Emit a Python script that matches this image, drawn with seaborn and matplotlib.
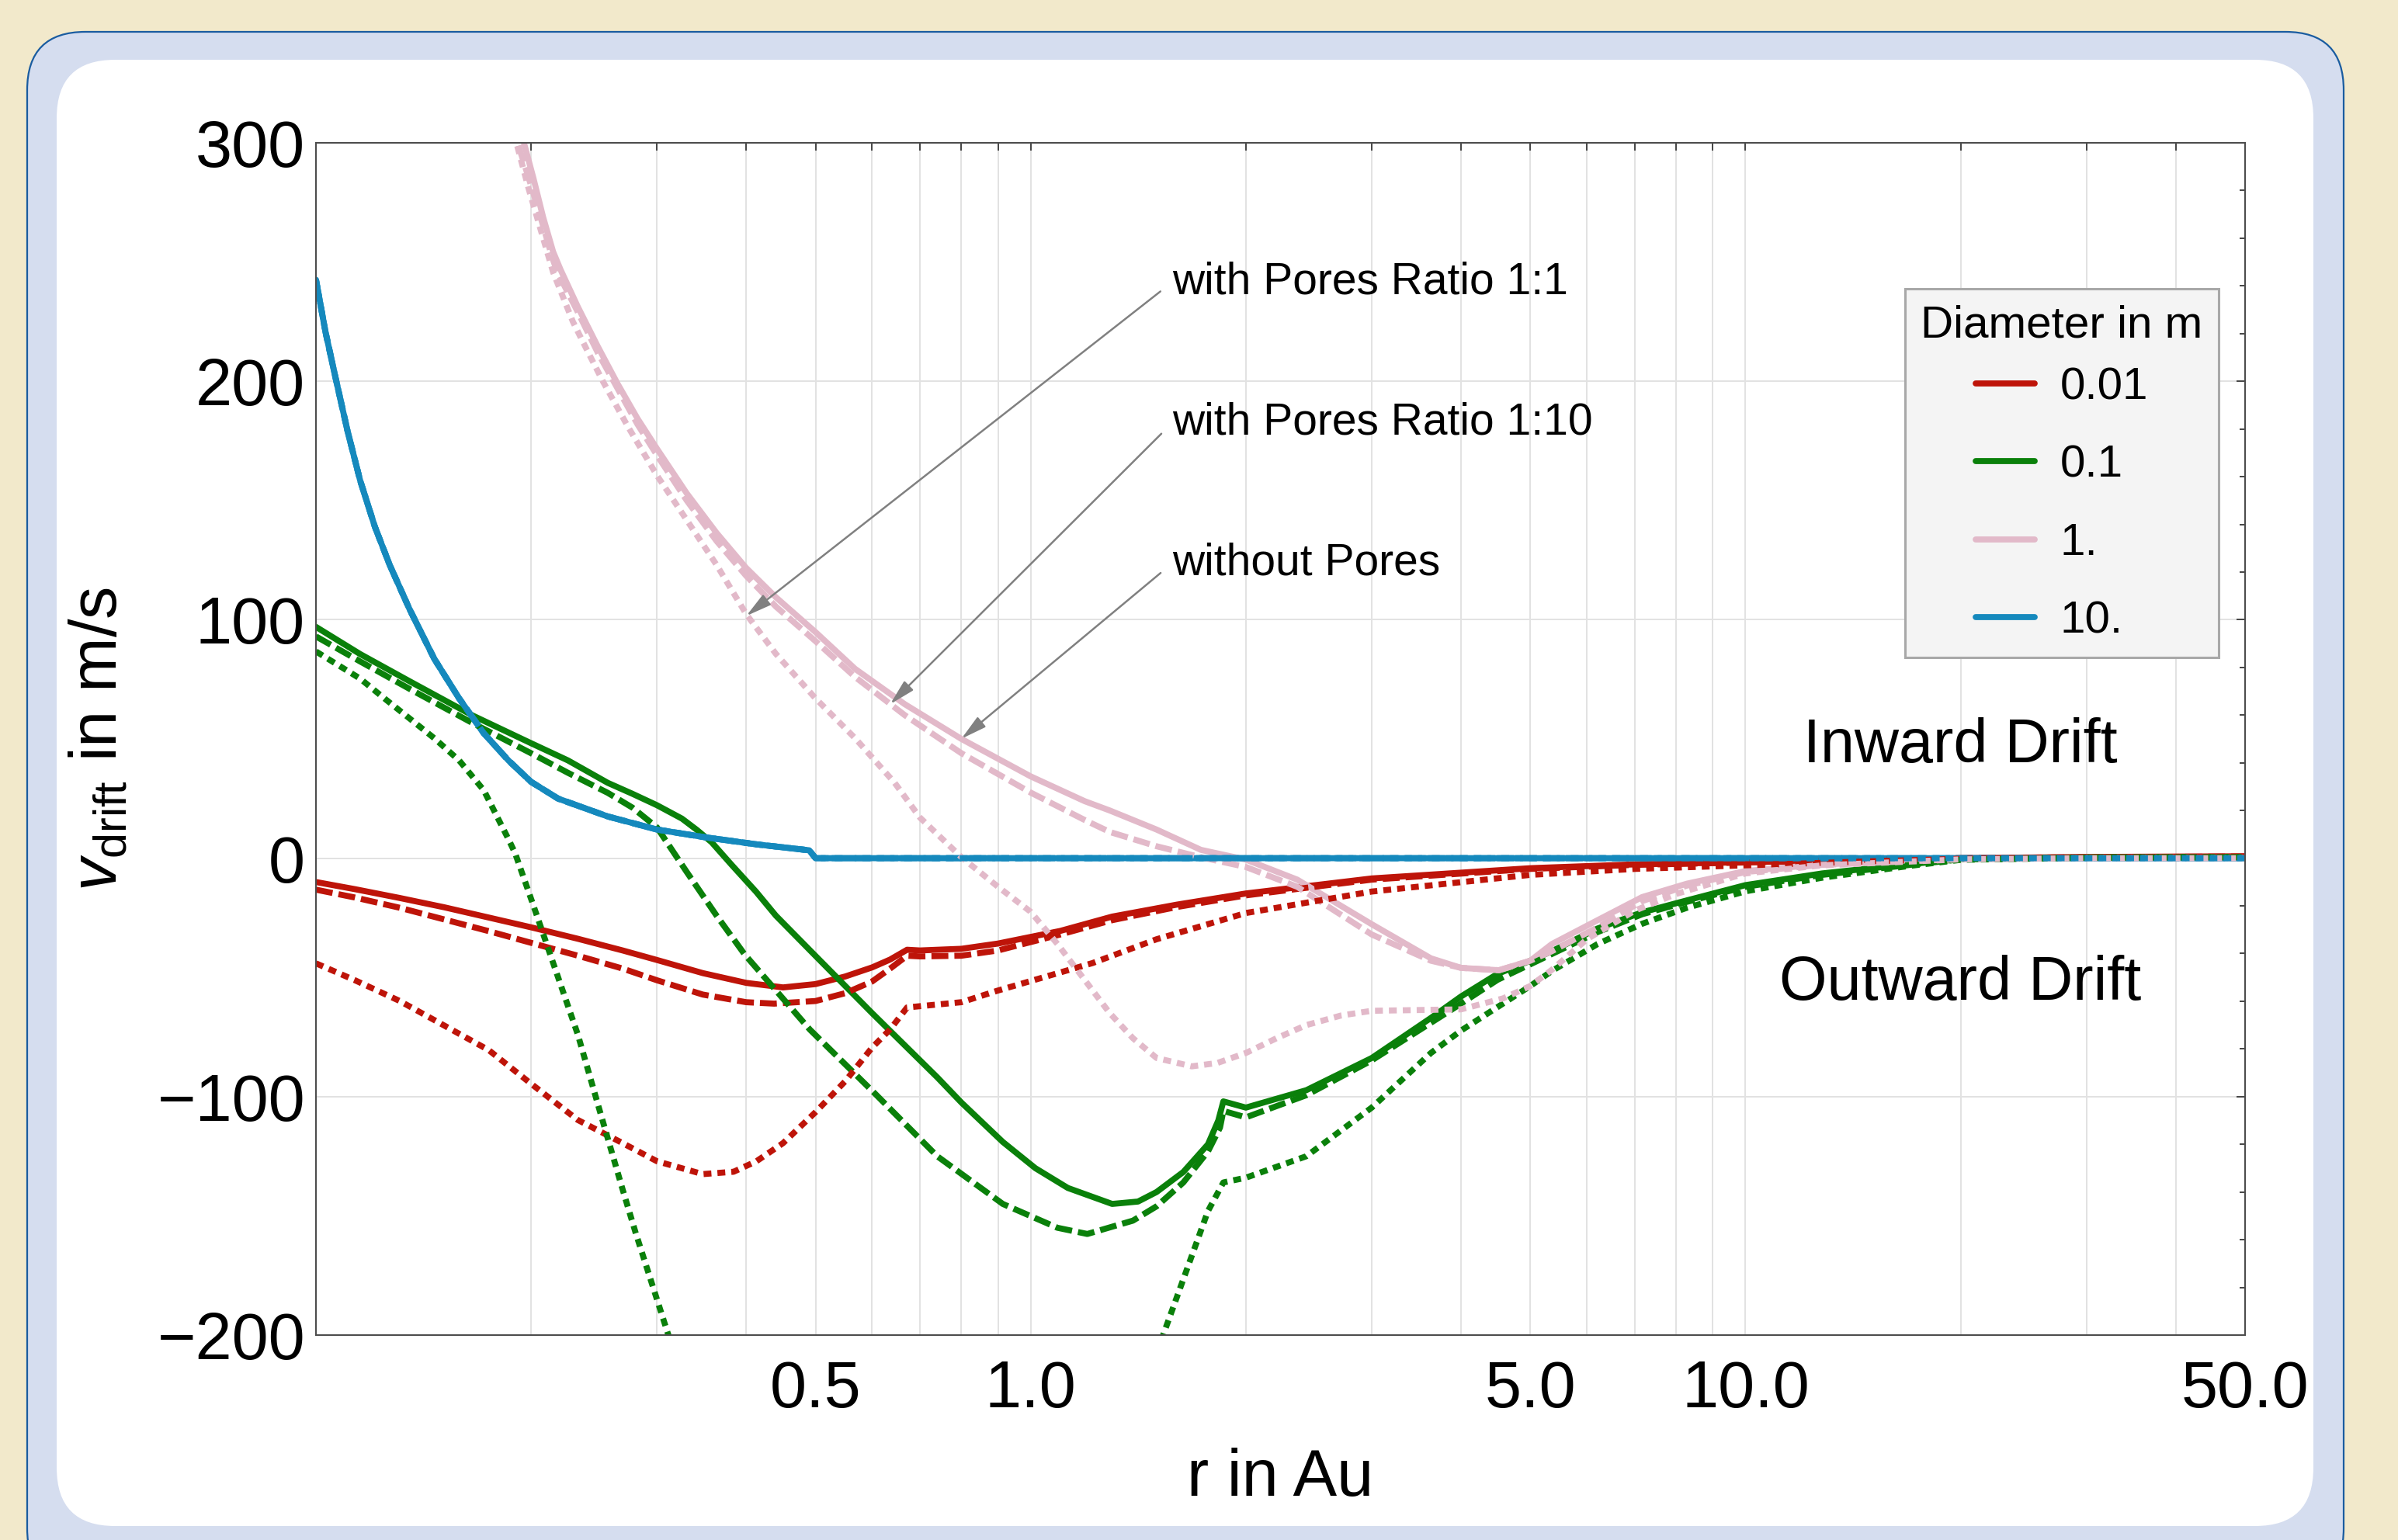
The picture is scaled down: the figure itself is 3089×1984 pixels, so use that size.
import numpy as np
import pandas as pd
import matplotlib
matplotlib.use("Agg")
import matplotlib.pyplot as plt
import seaborn as sns
from matplotlib.patches import FancyBboxPatch
from matplotlib.ticker import NullFormatter

# ---------------- data ----------------
# r in Au, v_drift in m/s ; "without" = solid, "1:10" = dashed, "1:1" = dotted
r_red_none = [0.1, 0.1134, 0.131, 0.1512, 0.1745, 0.2, 0.2325, 0.2686, 0.3, 0.3477, 0.4, 0.4503, 0.5, 0.5503, 0.6, 0.6358, 0.6715, 0.7, 0.8, 0.9, 1.1, 1.3, 1.6, 2.0, 3.0, 5.0, 7.0, 10.0, 15.0, 20.0, 30.0, 50.0]
v_red_none = [-10.0, -13.0, -16.7, -20.6, -24.9, -29.0, -33.8, -38.7, -42.7, -48.2, -52.3, -54.2, -52.8, -49.6, -45.8, -42.5, -38.4, -38.7, -38.0, -35.8, -30.5, -24.5, -19.5, -14.8, -8.5, -4.2, -2.6, -1.7, -0.6, 0.0, 0.5, 0.8]

r_red_110 = [0.1, 0.1134, 0.131, 0.1512, 0.1745, 0.2, 0.2325, 0.2686, 0.3, 0.3477, 0.4, 0.4375, 0.5, 0.5503, 0.6, 0.6358, 0.6715, 0.7, 0.8, 0.9, 1.1, 1.3, 1.6, 2.0, 3.0, 5.0, 7.0, 10.0, 15.0, 20.0, 30.0, 50.0]
v_red_110 = [-13.2, -16.5, -20.8, -25.7, -30.6, -35.5, -40.9, -46.3, -51.2, -57.2, -60.4, -61.0, -59.9, -56.6, -51.7, -46.3, -40.9, -41.2, -40.9, -38.7, -32.0, -26.0, -20.5, -15.6, -9.0, -4.5, -2.8, -1.8, -0.6, 0.0, 0.4, 0.7]

r_red_11 = [0.1, 0.1134, 0.131, 0.1512, 0.1745, 0.2, 0.2325, 0.2686, 0.3, 0.3477, 0.384, 0.4133, 0.4503, 0.5, 0.5503, 0.6, 0.6358, 0.6715, 0.7326, 0.8, 0.9, 1.22, 1.5, 2.0, 3.0, 5.0, 7.0, 10.0, 15.0, 20.0, 30.0, 50.0]
v_red_11 = [-44.1, -51.2, -59.9, -70.2, -80.5, -94.6, -109.8, -119.5, -127.1, -132.5, -131.5, -127.1, -119.5, -106.5, -93.5, -79.4, -71.8, -62.6, -61.5, -60.4, -55.5, -44.0, -34.0, -23.0, -14.0, -7.0, -4.5, -3.0, -1.3, -0.3, 0.3, 0.6]

r_green_none = [0.1, 0.1153, 0.1352, 0.166, 0.2, 0.2252, 0.256, 0.2772, 0.3, 0.3251, 0.341, 0.3577, 0.3813, 0.4129, 0.44, 0.5, 0.6, 0.74, 0.8, 0.914, 1.015, 1.127, 1.30, 1.413, 1.5, 1.635, 1.77, 1.83, 1.86, 2.0, 2.43, 3.0, 3.63, 4.0, 4.5, 5.0, 5.36, 6.21, 7.17, 8.28, 10.0, 12.8, 17.0, 20.0, 30.0, 50.0]
v_green_none = [97.0, 85.6, 74.2, 59.7, 48.2, 41.0, 31.6, 27.0, 22.2, 16.6, 11.9, 6.7, -2.7, -14.1, -24.1, -41.0, -65.0, -91.9, -102.5, -119.0, -130.0, -138.3, -145.0, -144.0, -140.0, -131.6, -120.0, -110.0, -102.0, -104.6, -97.3, -83.8, -67.0, -58.0, -48.5, -43.0, -39.0, -29.5, -22.7, -17.7, -11.3, -6.4, -2.5, -0.4, 0.3, 0.5]

r_green_110 = [0.1, 0.1153, 0.1352, 0.166, 0.2, 0.2252, 0.256, 0.2772, 0.3, 0.3302, 0.3635, 0.398, 0.491, 0.604, 0.74, 0.914, 1.09, 1.2, 1.39, 1.5, 1.635, 1.77, 1.84, 1.86, 2.0, 2.43, 3.0, 4.0, 4.5, 5.0, 6.21, 7.17, 8.28, 10.0, 12.8, 17.0, 20.0, 30.0, 50.0]
v_green_110 = [93.0, 82.5, 71.0, 56.5, 44.0, 35.8, 27.4, 21.2, 12.9, -5.8, -24.1, -40.4, -71.9, -98.4, -125.0, -145.0, -155.0, -157.6, -152.0, -146.0, -136.0, -123.0, -113.0, -106.0, -108.7, -99.4, -84.8, -61.0, -51.0, -44.5, -31.0, -23.5, -18.3, -12.0, -7.0, -2.8, -0.5, 0.3, 0.5]

r_green_11 = [0.1, 0.1153, 0.1248, 0.1352, 0.1464, 0.1586, 0.1717, 0.1859, 0.19, 0.2014, 0.2164, 0.2325, 0.2498, 0.2686, 0.28, 0.311, 0.35, 0.7, 1.4, 1.56, 1.77, 1.86, 2.0, 2.43, 3.0, 3.63, 4.0, 5.0, 5.36, 6.21, 7.17, 8.28, 10.0, 12.8, 17.0, 20.0, 30.0, 50.0]
v_green_11 = [86.7, 75.3, 66.9, 58.6, 50.3, 41.0, 28.5, 8.0, 2.0, -19.7, -46.9, -74.0, -106.5, -139.0, -157.0, -199.7, -240.0, -400.0, -232.0, -193.5, -148.0, -136.0, -134.0, -125.0, -104.6, -81.7, -72.3, -53.6, -47.3, -36.0, -27.5, -20.8, -13.9, -8.2, -3.2, -0.7, 0.2, 0.4]

r_pink_none = [0.185, 0.1951, 0.2014, 0.2079, 0.2147, 0.2199, 0.2325, 0.2479, 0.2642, 0.2817, 0.3, 0.3302, 0.3635, 0.3996, 0.4401, 0.5, 0.5679, 0.6663, 0.8, 1.0, 1.19, 1.29, 1.5, 1.73, 2.0, 2.36, 3.0, 3.63, 4.0, 4.52, 5.0, 5.36, 6.21, 7.17, 8.28, 10.0, 12.8, 20.0, 30.0, 50.0]
v_pink_none = [327.0, 300.8, 285.4, 268.8, 254.3, 246.8, 231.2, 214.6, 199.0, 184.4, 171.7, 153.0, 136.4, 121.8, 109.4, 94.8, 79.4, 64.6, 50.0, 34.3, 23.9, 20.0, 12.0, 3.5, -0.6, -9.0, -27.7, -42.0, -46.0, -47.0, -43.0, -36.0, -26.0, -16.3, -10.7, -5.4, -2.6, -0.4, 0.0, 0.0]

r_pink_110 = [0.183, 0.1915, 0.2, 0.2075, 0.214, 0.2175, 0.2325, 0.2479, 0.2642, 0.2817, 0.3, 0.3302, 0.3635, 0.3996, 0.4401, 0.5, 0.5679, 0.6663, 0.8, 1.0, 1.19, 1.29, 1.5, 1.73, 2.0, 2.36, 3.0, 3.63, 4.0, 4.52, 5.0, 5.36, 6.21, 7.17, 8.28, 10.0, 12.8, 20.0, 30.0, 50.0]
v_pink_110 = [327.0, 300.0, 282.0, 266.0, 252.0, 246.0, 229.0, 212.0, 197.0, 182.0, 169.0, 150.0, 133.0, 118.5, 105.5, 91.0, 76.0, 60.0, 44.0, 27.5, 16.0, 11.0, 5.0, 0.4, -3.7, -12.0, -32.0, -43.0, -46.0, -47.0, -43.0, -39.0, -29.0, -18.0, -11.5, -5.8, -2.8, -0.4, 0.0, 0.0]

r_pink_11 = [0.182, 0.1905, 0.1983, 0.2079, 0.2147, 0.2288, 0.24, 0.252, 0.2728, 0.3, 0.3302, 0.3635, 0.4, 0.44, 0.5, 0.568, 0.6452, 0.7, 0.8, 0.9, 1.0, 1.09, 1.186, 1.29, 1.39, 1.5, 1.68, 1.824, 2.0, 2.208, 2.43, 2.716, 3.0, 3.63, 4.0, 4.58, 5.0, 5.36, 6.0, 7.0, 8.0, 10.0, 12.8, 20.0, 30.0, 50.0]
v_pink_11 = [327.0, 300.6, 281.0, 260.0, 245.7, 225.0, 212.5, 200.0, 181.3, 160.5, 141.8, 123.0, 102.3, 85.7, 67.0, 50.3, 31.6, 17.0, 0.4, -12.0, -22.5, -36.0, -50.5, -65.0, -75.5, -83.8, -87.3, -85.9, -81.7, -75.5, -70.0, -66.0, -64.0, -63.6, -63.4, -58.8, -53.6, -46.8, -34.0, -22.0, -15.0, -6.4, -3.0, -0.5, 0.0, 0.0]

r_blue = [0.1, 0.1031, 0.1064, 0.1107, 0.1153, 0.1209, 0.1268, 0.1352, 0.1464, 0.1586, 0.1717, 0.1859, 0.2, 0.2181, 0.256, 0.3, 0.3515, 0.4133, 0.49, 0.5, 1.0, 5.0, 10.0, 50.0]
v_blue = [242.6, 220.8, 202.1, 179.2, 158.4, 139.0, 123.0, 104.4, 83.6, 67.0, 52.4, 41.0, 32.0, 25.0, 17.5, 12.0, 8.7, 5.8, 3.3, 0.0, 0.0, 0.0, 0.0, 0.0]

diameters = ["0.01", "0.1", "1.", "10."]
pores_kinds = ["without", "1:10", "1:1"]
x_major = [0.5, 1.0, 5.0, 10.0, 50.0]
x_major_labels = ["0.5", "1.0", "5.0", "10.0", "50.0"]
x_minor = [0.2, 0.3, 0.4, 0.6, 0.7, 0.8, 0.9, 2, 3, 4, 6, 7, 8, 9, 20, 30, 40]
y_major = [-200, -100, 0, 100, 200, 300]
y_major_labels = ["\u2212200", "\u2212100", "0", "100", "200", "300"]

series = [
    ("0.01", "without", r_red_none, v_red_none),
    ("0.01", "1:10", r_red_110, v_red_110),
    ("0.01", "1:1", r_red_11, v_red_11),
    ("0.1", "without", r_green_none, v_green_none),
    ("0.1", "1:10", r_green_110, v_green_110),
    ("0.1", "1:1", r_green_11, v_green_11),
    ("1.", "without", r_pink_none, v_pink_none),
    ("1.", "1:10", r_pink_110, v_pink_110),
    ("1.", "1:1", r_pink_11, v_pink_11),
    ("10.", "without", r_blue, v_blue),
    ("10.", "1:10", r_blue, v_blue),
    ("10.", "1:1", r_blue, v_blue),
]
rows = []
for d, p, rs, vs in series:
    for r, v in zip(rs, vs):
        rows.append((d, p, r, v))
df = pd.DataFrame(rows, columns=["diameter", "pores", "r", "v"])

# ---------------- style ----------------
sns.set_theme(style="white")
plt.rcParams["font.family"] = ["Liberation Sans", "DejaVu Sans"]
plt.rcParams["mathtext.fontset"] = "custom"
plt.rcParams["mathtext.rm"] = "Liberation Sans"
plt.rcParams["mathtext.it"] = "Liberation Sans:italic"
plt.rcParams["axes.unicode_minus"] = True
plt.rcParams["text.color"] = "black"
plt.rcParams["axes.labelcolor"] = "black"
plt.rcParams["xtick.labelcolor"] = "black"
plt.rcParams["ytick.labelcolor"] = "black"

palette = {"0.01": "#BE1409", "0.1": "#0A800A", "1.": "#E2B9C9", "10.": "#1589BD"}
linestyles = {"without": "-", "1:10": (0, (2.8, 1.0)), "1:1": (0, (1.3, 1.0))}

W, H = 3089, 1984
fig = plt.figure(figsize=(W / 100, H / 100), dpi=100, facecolor="#F2E9CB")

outer = FancyBboxPatch((0.35, -0.6), 29.84, 20.03,
                       boxstyle="round,pad=0,rounding_size=0.75",
                       transform=fig.dpi_scale_trans, fc="#D5DDEF",
                       ec="#1A5CA0", lw=1.6, zorder=-3)
inner = FancyBboxPatch((0.73, 0.18), 29.07, 18.89,
                       boxstyle="round,pad=0,rounding_size=0.75",
                       transform=fig.dpi_scale_trans, fc="white",
                       ec="none", zorder=-2)
fig.add_artist(outer)
fig.add_artist(inner)

ax = fig.add_axes([407 / W, 1 - 1720 / H, (2892 - 407) / W, (1720 - 184) / H])
ax.set_facecolor("white")
ax.set_xscale("log")
ax.set_xlim(0.1, 50)
ax.set_ylim(-200, 300)

legend_handles = None
for p in pores_kinds:
    sub = df[df["pores"] == p]
    n_before = len(ax.lines)
    sns.lineplot(data=sub, x="r", y="v", hue="diameter", hue_order=diameters,
                 palette=palette, estimator=None, errorbar=None, sort=True,
                 legend=False, ax=ax, linewidth=5.6, linestyle=linestyles[p])
    if legend_handles is None:
        legend_handles = ax.lines[n_before:n_before + 4]

ax.set_xlim(0.1, 50)
ax.set_ylim(-200, 300)

# ticks & grid
ax.set_xticks(x_major, x_major_labels)
ax.set_xticks(x_minor, minor=True)
ax.xaxis.set_minor_formatter(NullFormatter())
ax.set_yticks(y_major, y_major_labels)
ax.set_yticks(np.arange(-200, 301, 20), minor=True)
ax.set_axisbelow(True)
ax.grid(True, which="both", axis="x", color="#E2E2E2", lw=1.4)
ax.grid(True, which="major", axis="y", color="#E2E2E2", lw=1.4)
ax.tick_params(which="both", direction="in", top=True, right=True,
               color="#444444", width=1.4, labelcolor="black")
ax.tick_params(axis="x", which="both", length=7, labelsize=61, pad=22)
ax.tick_params(axis="y", which="major", length=8, labelsize=61, pad=10)
ax.tick_params(axis="y", which="minor", length=5)
for s in ax.spines.values():
    s.set_visible(True)
    s.set_color("#4D4D4D")
    s.set_linewidth(1.5)

ax.set_xlabel("r in Au", fontsize=61, va="baseline", color="black")
ax.xaxis.set_label_coords(0.5, (1720 - 1927) / 1536)
ax.set_ylabel(r"$v_{\mathrm{drift}}$ in m/s", fontsize=61, va="center", color="black")
ax.yaxis.set_label_coords((128 - 407) / 2485, 0.5)

# region texts
ax.text(20, 40.2, "Inward Drift", ha="center", va="baseline", fontsize=57, color="black")
ax.text(20, -59.4, "Outward Drift", ha="center", va="baseline", fontsize=57, color="black")

# annotations
ann = [
    ("with Pores Ratio 1:1", (0.40, 101.6), (1.578, 241.6)),
    ("with Pores Ratio 1:10", (0.636, 64.6), (1.578, 182.6)),
    ("without Pores", (0.80, 50.1), (1.578, 123.7)),
]
for txt, xy, xyt in ann:
    ax.annotate(txt, xy=xy, xytext=xyt, ha="left", va="center", fontsize=41,
                color="black",
                arrowprops=dict(arrowstyle="-|>,head_length=0.8,head_width=0.2",
                                color="#808080", lw=1.8, shrinkA=11, shrinkB=0,
                                mutation_scale=25, relpos=(0, 0.5)))

leg = ax.legend(legend_handles, diameters, title="Diameter in m",
                loc="upper left", bbox_to_anchor=(2454 / W, 1 - 372 / H),
                bbox_transform=fig.transFigure, borderaxespad=0,
                fontsize=42, title_fontsize=42, frameon=True, fancybox=False,
                facecolor="#F4F4F4", edgecolor="#A8A8A8", framealpha=1,
                handlelength=1.3, handletextpad=0.56, labelspacing=0.79,
                borderpad=0.35)
leg.get_frame().set_linewidth(2.2)
leg._legend_box.sep = 19
for t in leg.get_texts():
    t.set_color("black")
leg.get_title().set_color("black")

fig.savefig("out.png", dpi=100, facecolor=fig.get_facecolor())
